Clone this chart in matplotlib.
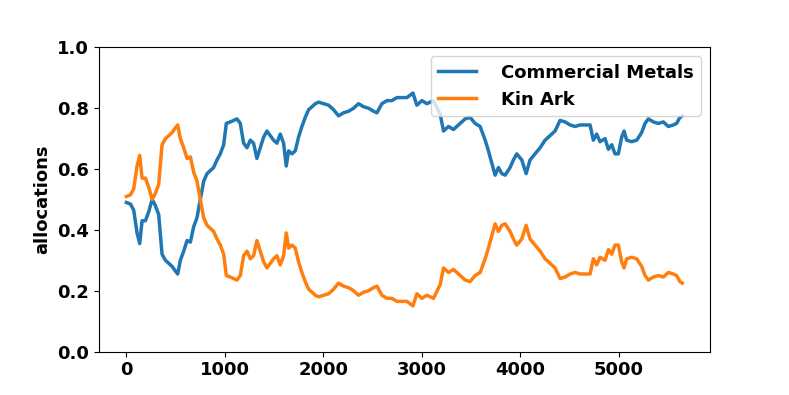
import matplotlib

matplotlib.use("Agg")
import matplotlib.pyplot as plt
import numpy as np

# step index, with the allocation of each asset there
steps = [
    0, 41, 74, 108, 135, 159, 193, 227, 261, 294, 328, 362, 396, 430, 464, 497,
    521, 548, 582, 616, 650, 683, 717, 751, 785, 819, 853, 886, 920, 954, 988,
    1015, 1056, 1089, 1123, 1157, 1191, 1225, 1259, 1292, 1326, 1360, 1394,
    1428, 1462, 1495, 1529, 1563, 1597, 1624, 1648, 1682, 1716, 1749, 1783,
    1817, 1851, 1885, 1920, 1953, 2003, 2054, 2105, 2155, 2206, 2257, 2308,
    2358, 2409, 2460, 2511, 2545, 2596, 2647, 2697, 2748, 2799, 2850, 2911,
    2951, 3002, 3053, 3120, 3188, 3222, 3272, 3323, 3391, 3442, 3492, 3543,
    3594, 3645, 3678, 3712, 3746, 3780, 3814, 3848, 3898, 3932, 3966, 4017,
    4061, 4101, 4152, 4203, 4254, 4305, 4355, 4406, 4457, 4508, 4558, 4609,
    4660, 4711, 4744, 4778, 4812, 4863, 4897, 4931, 4964, 4998, 5032, 5056,
    5083, 5134, 5185, 5235, 5269, 5303, 5354, 5404, 5455, 5506, 5557, 5590,
    5624, 5648,
]
commercial_metals = [
    0.49, 0.485, 0.465, 0.39, 0.355, 0.43, 0.43, 0.46, 0.50, 0.48, 0.45, 0.32,
    0.30, 0.29, 0.28, 0.265, 0.255, 0.30, 0.33, 0.365, 0.36, 0.41, 0.44, 0.50,
    0.56, 0.585, 0.595, 0.605, 0.63, 0.65, 0.68, 0.75, 0.755, 0.76, 0.765,
    0.75, 0.685, 0.67, 0.695, 0.685, 0.635, 0.67, 0.705, 0.725, 0.71, 0.695,
    0.685, 0.715, 0.685, 0.61, 0.66, 0.65, 0.66, 0.705, 0.74, 0.77, 0.795,
    0.805, 0.815, 0.82, 0.815, 0.81, 0.795, 0.775, 0.785, 0.79, 0.80, 0.815,
    0.805, 0.80, 0.79, 0.785, 0.815, 0.825, 0.825, 0.835, 0.835, 0.835, 0.85,
    0.81, 0.825, 0.815, 0.825, 0.78, 0.725, 0.74, 0.73, 0.75, 0.765, 0.77,
    0.75, 0.74, 0.695, 0.66, 0.62, 0.58, 0.605, 0.585, 0.58, 0.605, 0.63,
    0.65, 0.63, 0.585, 0.63, 0.65, 0.67, 0.695, 0.71, 0.725, 0.76, 0.755,
    0.745, 0.74, 0.745, 0.745, 0.745, 0.695, 0.715, 0.69, 0.70, 0.665, 0.68,
    0.65, 0.65, 0.705, 0.725, 0.695, 0.69, 0.695, 0.72, 0.75, 0.765, 0.755,
    0.75, 0.755, 0.74, 0.745, 0.75, 0.77, 0.775,
]
kin_ark = [
    0.51, 0.515, 0.535, 0.61, 0.645, 0.57, 0.57, 0.54, 0.50, 0.52, 0.55, 0.68,
    0.70, 0.71, 0.72, 0.735, 0.745, 0.70, 0.67, 0.635, 0.64, 0.59, 0.56, 0.50,
    0.44, 0.415, 0.405, 0.395, 0.37, 0.35, 0.32, 0.25, 0.245, 0.24, 0.235,
    0.25, 0.315, 0.33, 0.305, 0.315, 0.365, 0.33, 0.295, 0.275, 0.29, 0.305,
    0.315, 0.285, 0.315, 0.39, 0.34, 0.35, 0.34, 0.295, 0.26, 0.23, 0.205,
    0.195, 0.185, 0.18, 0.185, 0.19, 0.205, 0.225, 0.215, 0.21, 0.20, 0.185,
    0.195, 0.20, 0.21, 0.215, 0.185, 0.175, 0.175, 0.165, 0.165, 0.165, 0.15,
    0.19, 0.175, 0.185, 0.175, 0.22, 0.275, 0.26, 0.27, 0.25, 0.235, 0.23,
    0.25, 0.26, 0.305, 0.34, 0.38, 0.42, 0.395, 0.415, 0.42, 0.395, 0.37,
    0.35, 0.37, 0.415, 0.37, 0.35, 0.33, 0.305, 0.29, 0.275, 0.24, 0.245,
    0.255, 0.26, 0.255, 0.255, 0.255, 0.305, 0.285, 0.31, 0.30, 0.335, 0.32,
    0.35, 0.35, 0.295, 0.275, 0.305, 0.31, 0.305, 0.28, 0.25, 0.235, 0.245,
    0.25, 0.245, 0.26, 0.255, 0.25, 0.23, 0.225,
]
series_names = ["Commercial Metals", "Kin Ark"]

plt.rcParams["font.weight"] = "bold"
plt.rcParams["font.size"] = 13

fig, ax = plt.subplots(figsize=(7.89, 3.95), dpi=100)
ax.plot(steps, commercial_metals, color="#1f77b4", linewidth=2.5, label=series_names[0])
ax.plot(steps, kin_ark, color="#ff7f0e", linewidth=2.5, label=series_names[1])
ax.set_ylim(0, 1)
ax.set_ylabel("allocations", fontweight="bold")
ax.legend(loc="upper right", prop={"weight": "bold", "size": 13},
          handletextpad=1.4, handlelength=2.1)

fig.savefig("out.png", dpi=100)
